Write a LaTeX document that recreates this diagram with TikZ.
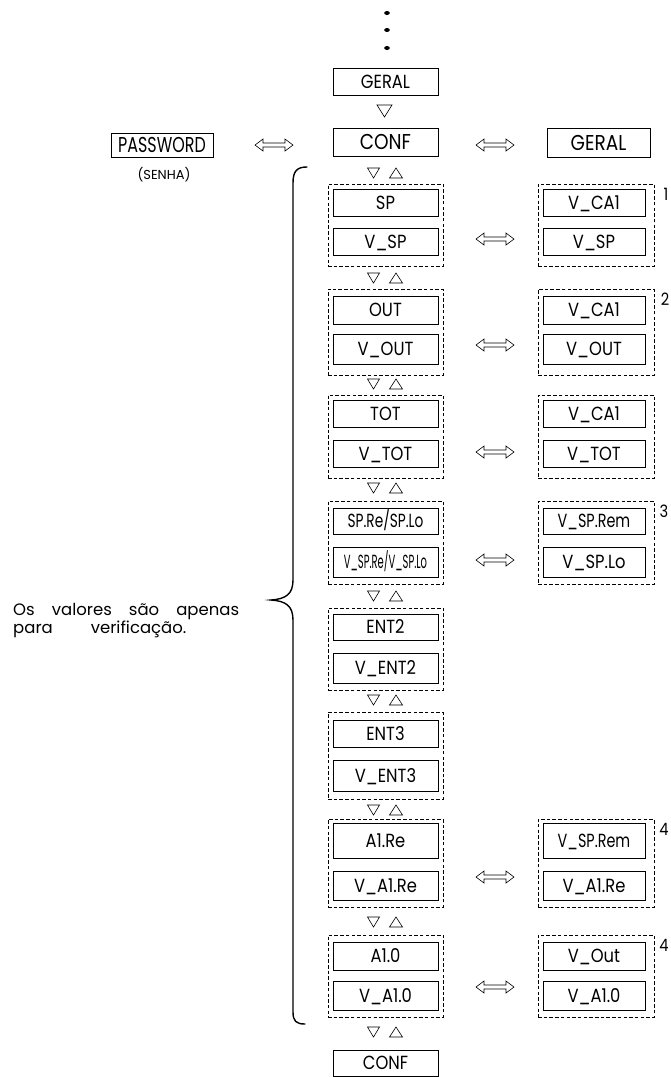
\documentclass[tikz,border=0pt]{standalone}
\usepackage{fontspec}
\setmainfont[FakeStretch=0.86]{Poppins}
\newfontfamily\plainfont{Poppins}
\usetikzlibrary{fit}
\tikzset{
  box/.style={draw, line width=0.6pt, inner sep=0pt, text height=13.3pt, text depth=0pt,
    font=\fontsize{19}{21}\selectfont},
  Lbox/.style={box, minimum width=105pt},
  Rbox/.style={box, minimum width=102pt},
  topbox/.style={box, text height=15pt, font=\fontsize{21.5}{23}\selectfont},
  grp/.style={draw, dash pattern=on 3.5pt off 2.2pt, line width=0.6pt, inner sep=0pt},
  tri/.style={line width=0.6pt},
  brace/.style={line width=1.4pt, line cap=round},
  numlbl/.style={font=\fontsize{17}{19}\selectfont, inner sep=0pt},
  note/.style={font=\plainfont\fontsize{16.5}{18}\selectfont, inner sep=0pt, anchor=base west},
  dblarr/.pic={\draw[line width=0.6pt, line join=miter] (-19,0) -- (-11,-6) -- (-11,-2) -- (11,-2) -- (11,-6) -- (19,0) -- (11,6) -- (11,2) -- (-11,2) -- (-11,6) -- cycle;},
  dnarr/.pic={\draw[tri] (-6,-5) -- (6,-5) -- (0,5) -- cycle;},
  uparr/.pic={\draw[tri] (-6.5,5) -- (6.5,5) -- (0,-5) -- cycle;},
  pair/.pic={\pic at (-11.5,0) {dnarr}; \pic at (11,0) {uparr};}
}
\begin{document}
\begin{tikzpicture}[x=1pt,y=-1pt]
\useasboundingbox (0,0) rectangle (670,1077);

% dots
\foreach \yy/\nm in {13/d1,30/d2,48/d3}
  \fill (387,\yy) ellipse [x radius=2.8, y radius=2];

% top
\node[Lbox, minimum height=27pt] (geralTop) at (385.5,81.5) {GERAL};
\draw[tri] (377,105) -- (392,105) -- (384.5,117) -- cycle;
\node[Lbox, topbox, minimum height=28pt] (conf) at (385.5,142) {CONF};
\node[box, topbox, minimum width=102pt, minimum height=24pt] (pw) at (162,145) {\scalebox{0.86}[1]{PASSWORD}};
\node[font=\plainfont\fontsize{13}{15}\selectfont] (senha) at (164,175) {(SENHA)};
\node[box, topbox, minimum width=103pt, minimum height=29pt] (geralR) at (598.5,143) {GERAL};
\pic at (274,145) {dblarr};
\pic at (495,145) {dblarr};

% left column groups
% G1
\node[Lbox, minimum height=27pt] (sp) at (385.5,202.5) {SP};
\node[Lbox, minimum height=27pt] (vsp) at (385.5,241.5) {V\_SP};
\node[grp, fit={(328,184) (443,266)}] (g1) {};
% G2
\node[Lbox, minimum height=28pt] (out) at (385.5,310) {OUT};
\node[Lbox, minimum height=30pt] (vout) at (385.5,349) {V\_OUT};
\node[grp, fit={(328,289) (443,375)}] (g2) {};
% G3
\node[Lbox, minimum height=27pt] (tot) at (385.5,413.5) {TOT};
\node[Lbox, minimum height=27pt] (vtot) at (385.5,453.5) {V\_TOT};
\node[grp, fit={(328,395) (443,478)}] (g3) {};
% G4
\node[Lbox, minimum height=26pt] (spre) at (385.5,521) {\scalebox{0.84}[1]{SP.Re/SP.Lo}};
\node[Lbox, minimum height=30pt] (vspre) at (385.5,562) {\scalebox{0.61}[1]{V\_SP.Re/V\_SP.Lo}};
\node[grp, fit={(328,501) (443,584)}] (g4) {};
% G5
\node[Lbox, minimum height=26pt] (ent2) at (385.5,627) {ENT2};
\node[Lbox, minimum height=30pt] (vent2) at (385.5,668) {V\_ENT2};
\node[grp, fit={(328,608) (443,690)}] (g5) {};
% G6
\node[Lbox, minimum height=27pt] (ent3) at (385.5,733.5) {ENT3};
\node[Lbox, minimum height=31pt] (vent3) at (385.5,775.5) {V\_ENT3};
\node[grp, fit={(328,712) (443,799)}] (g6) {};
% G7
\node[Lbox, minimum height=35pt] (a1re) at (385.5,840.5) {A1.Re};
\node[Lbox, minimum height=29pt] (va1re) at (385.5,885.5) {V\_A1.Re};
\node[grp, fit={(328,819) (443,907)}] (g7) {};
% G8
\node[Lbox, minimum height=28pt] (a10) at (385.5,956) {A1.0};
\node[Lbox, minimum height=29pt] (va10) at (385.5,995.5) {V\_A1.0};
\node[grp, fit={(328,935) (443,1017)}] (g8) {};
% bottom
\node[Lbox, minimum height=26pt] (confB) at (385.5,1063) {CONF};

% right column groups
\node[Rbox, minimum height=27pt] (r1a) at (594,202.5) {V\_CA1};
\node[Rbox, minimum height=27pt] (r1b) at (594,241.5) {V\_SP};
\node[grp, fit={(538,184) (654,266)}] (rg1) {};
\node[Rbox, minimum height=28pt] (r2a) at (594,310) {V\_CA1};
\node[Rbox, minimum height=30pt] (r2b) at (594,349) {V\_OUT};
\node[grp, fit={(538,289) (654,375)}] (rg2) {};
\node[Rbox, minimum height=27pt] (r3a) at (594,413.5) {V\_CA1};
\node[Rbox, minimum height=27pt] (r3b) at (594,453.5) {V\_TOT};
\node[grp, fit={(538,395) (654,478)}] (rg3) {};
\node[Rbox, minimum height=26pt] (r4a) at (594,521) {\scalebox{0.88}[1]{V\_SP.Rem}};
\node[Rbox, minimum height=30pt] (r4b) at (594,562) {V\_SP.Lo};
\node[grp, fit={(538,501) (654,584)}] (rg4) {};
\node[Rbox, minimum height=35pt] (r7a) at (594,840.5) {\scalebox{0.88}[1]{V\_SP.Rem}};
\node[Rbox, minimum height=29pt] (r7b) at (594,885.5) {V\_A1.Re};
\node[grp, fit={(538,819) (654,907)}] (rg7) {};
\node[Rbox, minimum height=28pt] (r8a) at (594,956) {V\_Out};
\node[Rbox, minimum height=29pt] (r8b) at (594,995.5) {V\_A1.0};
\node[grp, fit={(538,935) (654,1017)}] (rg8) {};

% numbers
\node[numlbl] (n1) at (666,194) {1};
\node[numlbl] (n2) at (665,299) {2};
\node[numlbl] (n3) at (664,511) {3};
\node[numlbl] (n4a) at (664,829) {4};
\node[numlbl] (n4b) at (664,945) {4};

% double arrows between columns
\foreach \yy in {239,345,452,560,877,987}
  \pic at (495,\yy) {dblarr};

% navigation triangles
\foreach \yy in {173,278,384,488,596,700,810,922,1032}
  \pic at (385,\yy) {pair};

% brace
\draw[brace] (307,167) .. controls (297,167) and (293,171) .. (293,183)
  -- (293,580) .. controls (293,594) and (286,599) .. (271,600)
  .. controls (286,601) and (293,606) .. (293,620)
  -- (293,1012) .. controls (293,1021) and (296,1024) .. (305,1024);

% note text
\node[note] (t1) at (13,615) {\makebox[226pt][s]{Os valores são apenas}};
\node[note] (t2) at (13,633) {para\hspace{38pt}verificação.};
\end{tikzpicture}
\end{document}
